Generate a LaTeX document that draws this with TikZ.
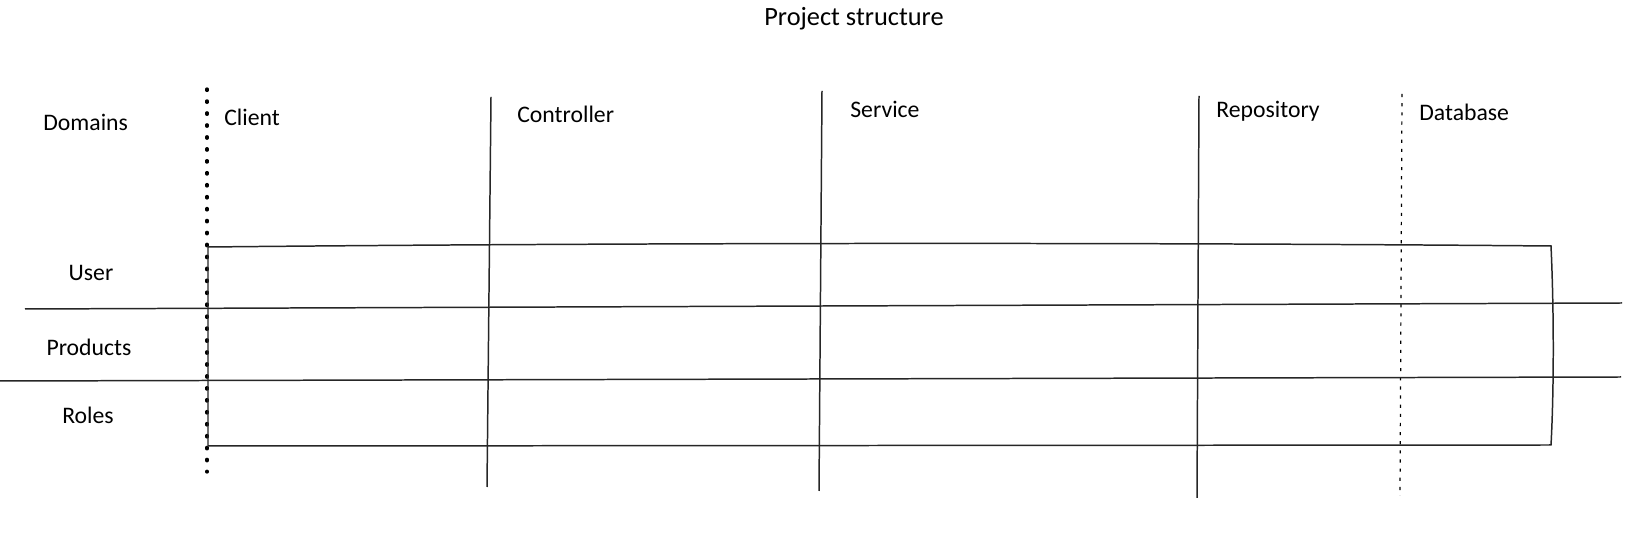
\documentclass[tikz,border=0pt]{standalone}
\usepackage{fontspec}
\setmainfont{Carlito}
\usetikzlibrary{positioning}

\begin{document}
\begin{tikzpicture}[x=0.02cm,y=-0.02cm]
% one unit is one pixel of the sketch, y runs downwards
\tikzset{every node/.style={inner sep=0pt, font=\fontsize{13.5}{15}\selectfont}}
\tikzset{layer/.style={anchor=west}, rowname/.style={anchor=center}}
\tikzset{sketch/.style={line width=0.85pt, black!85}, dotline/.style={line width=1.9pt, line cap=round, dash pattern=on 0.8pt off 6pt}, dashline/.style={line width=0.7pt, dash pattern=on 1.8pt off 3.4pt}}
\useasboundingbox (0,0) rectangle (1627,546);

\node[font=\fontsize{15}{17}\selectfont] (title) at (854,19) {Project structure};

% layers
\node[layer] (domains) at (43,122) {Domains};
\node[layer] (client) at (224,117) {Client};
\node[layer] (controller) at (517,114) {Controller};
\node[layer] (service) at (850,109) {Service};
\node[layer] (repository) at (1216,111) {Repository};
\node[layer] (database) at (1419,112) {Database};

% domains
\node[rowname] (user) at (91,273) {User};
\node[rowname] (products) at (89,347) {Products};
\node[rowname] (roles) at (88,415) {Roles};

% column borders
\draw[dotline] (207,89) -- (207,472);
\draw[sketch] (491,97) -- (487,487);
\draw[sketch] (822,91) -- (819,491);
\draw[sketch] (1199,96) -- (1197,498);
\draw[dashline] (1402,94) -- (1400,496);

% the table frame
\draw[sketch] (208,247) .. controls (600,243) and (1100,242) .. (1551,246)
  .. controls (1554,310) and (1554,390) .. (1551,445)
  -- (208,446) -- cycle;

% domain rows
\draw[sketch] (25,309) -- (1622,303);
\draw[sketch] (0,381) -- (1621,377);
\end{tikzpicture}
\end{document}
